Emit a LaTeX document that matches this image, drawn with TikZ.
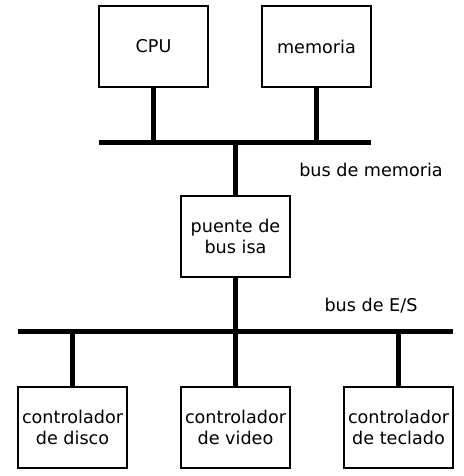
\documentclass[tikz,border=0pt]{standalone}
\usepackage{fontspec}
\setmainfont{DejaVu Sans}
\usepackage{tikz}

\begin{document}
\begin{tikzpicture}[%
	x=1pt,y=-1pt,
	every node/.style={
		font=\fontsize{17.6}{21}\selectfont,
	},
	box/.style={
		draw, line width=2pt, align=center,
		minimum width=109pt, minimum height=81pt, inner sep=0pt,
	},
	bus/.style={line width=5pt},
	]
	\useasboundingbox (0,0) rectangle (463,476);
	
	% place boxes
	\node[box] (cpu) at (153.5,46.5) {CPU};
	\node[box] (mem) at (316.5,46.5) {memoria};
	\node[box] (bridge) at (235.5,236.5) {puente de\\bus isa};
	\node[box] (disk) at (72.5,427) {controlador\\de disco};
	\node[box] (video) at (235.5,427) {controlador\\de video};
	\node[box] (kbd) at (398.5,427) {controlador\\de teclado};
	
	% bus end points
	\coordinate (mb-l) at (99,142);
	\coordinate (mb-r) at (371,142);
	\coordinate (io-l) at (18,331);
	\coordinate (io-r) at (453,331);
	
	% draw buses
	\draw[bus] (mb-l) -- (mb-r);
	\draw[bus] (io-l) -- (io-r);
	
	% draw stubs
	\foreach \n in {cpu,mem}{
		\draw[bus] (\n.south) -- (\n.south |- mb-l);
	}
	\draw[bus] (bridge.north) -- (bridge.north |- mb-l);
	\draw[bus] (bridge.south) -- (bridge.south |- io-l);
	\foreach \n in {disk,video,kbd}{
		\draw[bus] (\n.north) -- (\n.north |- io-l);
	}
	
	% bus labels
	\node (mb-label) at (371,170) {bus de memoria};
	\node (io-label) at (371,306) {bus de E/S};
\end{tikzpicture}
\end{document}
